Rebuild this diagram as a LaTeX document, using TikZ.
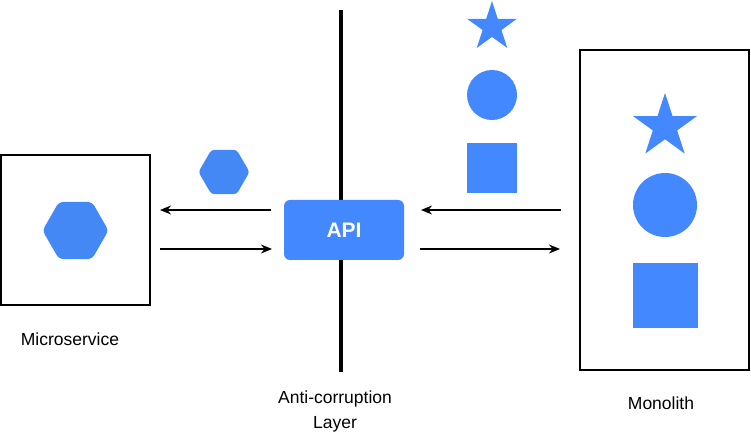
\documentclass[tikz,border=0pt]{standalone}
\usepackage{fontspec}
\setmainfont{Liberation Sans}
\usetikzlibrary{shapes.geometric,arrows.meta}
\definecolor{shapeblue}{HTML}{4488FF}
\definecolor{hexblue}{HTML}{4488F6}
\tikzset{
  x=1pt,y=1pt,
  frame/.style={draw=black,line width=1.2pt,fill=white},
  hexa/.style={regular polygon,regular polygon sides=6,fill=hexblue,draw=none,inner sep=0pt,rounded corners=4pt},
  starshape/.style={star,star points=5,star point ratio=2.618,fill=shapeblue,draw=none,inner sep=0pt},
  disc/.style={circle,fill=shapeblue,draw=none,inner sep=0pt},
  sq/.style={rectangle,fill=shapeblue,draw=none,inner sep=0pt},
  flow/.style={line width=1.4pt,-{Stealth[length=11pt,width=9pt,inset=3.5pt]}},
  lbl/.style={font=\fontsize{17.5}{25}\selectfont,align=center,inner sep=0pt},
}
\begin{document}
\begin{tikzpicture}
\useasboundingbox (0,0) rectangle (751,441);
% boxes
\node[frame,minimum width=149pt,minimum height=150pt,inner sep=0pt] (micro) at (75.5,211) {};
\node[frame,minimum width=169pt,minimum height=320pt,inner sep=0pt] (mono) at (664.5,231) {};
% layer line
\coordinate (ltop) at (341,431);
\coordinate (lbot) at (341,69);
\draw[line width=4pt] (ltop) -- (lbot);
% API
\node[rectangle,rounded corners=6pt,fill=shapeblue,minimum width=120pt,minimum height=60pt,inner sep=0pt,text=white,font=\bfseries\fontsize{21}{22}\selectfont] (api) at (344,211) {API};
% hexagons
\node[hexa,minimum size=66pt] (hexbig) at (75.5,210.5) {};
\node[hexa,minimum size=51pt,rounded corners=3pt] (hexsmall) at (224,269) {};
% travelling shapes
\node[starshape,minimum size=52pt] (star1) at (492,414) {};
\node[disc,minimum size=50pt] (circ1) at (492,346) {};
\node[sq,minimum width=50pt,minimum height=50pt] (sq1) at (492,273) {};
% monolith shapes
\node[starshape,minimum size=67pt] (star2) at (665,314.5) {};
\node[disc,minimum size=64pt] (circ2) at (665,236) {};
\node[sq,minimum width=65pt,minimum height=65pt] (sq2) at (665.5,145.5) {};
% arrows
\coordinate (la1) at (271,231);
\coordinate (la2) at (160,231);
\coordinate (lb1) at (160,192);
\coordinate (lb2) at (272,192);
\coordinate (ra1) at (561,231);
\coordinate (ra2) at (421,231);
\coordinate (rb1) at (420,192);
\coordinate (rb2) at (560,192);
\draw[flow] (la1) -- (la2);
\draw[flow] (lb1) -- (lb2);
\draw[flow] (ra1) -- (ra2);
\draw[flow] (rb1) -- (rb2);
% labels
\node[lbl] (lmicro) at (70,102) {Microservice};
\node[lbl] (lacl) at (335,29.5) {Anti-corruption\\Layer};
\node[lbl] (lmono) at (661,38) {Monolith};
\end{tikzpicture}
\end{document}
